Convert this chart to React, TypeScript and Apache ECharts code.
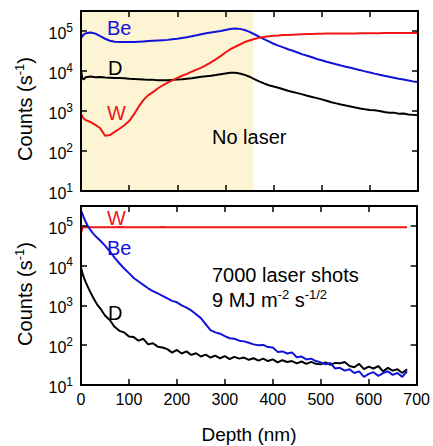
import React, { useEffect, useRef } from 'react';
import * as echarts from 'echarts';

// ---------- data ----------
const topDepth = [0, 3, 6, 10, 20, 30, 40, 50, 60, 70, 80, 90, 100, 110, 120, 130, 140, 150, 160, 170, 180, 190, 200,
  210, 220, 230, 240, 250, 260, 270, 280, 290, 300, 310, 320, 330, 340, 350, 360, 370, 380, 390, 400,
  410, 420, 430, 440, 450, 460, 470, 480, 490, 500, 510, 520, 530, 540, 550, 560, 570, 580, 590, 600,
  610, 620, 630, 640, 650, 660, 670, 680, 690, 700];

const beTop = [65000, 75000, 82000, 88000, 92000, 86000, 74000, 64000, 57000, 54000, 53000, 53000, 53000, 53000, 54000,
  55000, 56000, 57000, 58000, 59000, 60000, 62000, 64000, 67000, 70000, 74000, 78000, 83000, 88000, 92000, 96000,
  100000, 106000, 112000, 115000, 113000, 106000, 95000, 83000, 72000, 63000, 55000, 48000, 43000, 39000, 35000,
  32000, 29000, 26000, 24000, 22000, 20000, 18500, 17000, 15800, 14700, 13700, 12800, 12000, 11200, 10500, 9800,
  9200, 8600, 8100, 7600, 7200, 6800, 6400, 6100, 5800, 5500, 5300];

const dTop = [10500, 6500, 6200, 7000, 7300, 7000, 7100, 6900, 6800, 6700, 6700, 6600, 6400, 6300, 6200, 6100, 6000,
  6000, 5900, 5900, 5900, 6000, 6100, 6200, 6400, 6600, 6900, 7200, 7400, 7600, 7900, 8300, 8700, 9000, 9000, 8700,
  8000, 7200, 6300, 5500, 4900, 4400, 4100, 3800, 3500, 3200, 3000, 2800, 2600, 2400, 2250, 2100, 1950, 1800, 1650,
  1550, 1450, 1370, 1300, 1220, 1150, 1100, 1060, 1040, 1000, 940, 900, 910, 850, 870, 820, 800, 780];

const wTop = [850, 720, 640, 590, 530, 450, 370, 240, 250, 300, 360, 440, 560, 820, 1300, 1900, 2500, 3000, 3700, 4400,
  5100, 5800, 6700, 7600, 8500, 9600, 10800, 12200, 14000, 16500, 19500, 23500, 29000, 35000, 40000, 46000, 53000,
  58000, 63000, 68000, 71000, 74000, 76000, 77000, 79000, 80000, 81000, 82000, 83000, 84000, 84000, 85000, 85000,
  86000, 86000, 86000, 87000, 87000, 87000, 87000, 88000, 88000, 88000, 88000, 88000, 89000, 89000, 89000, 89000,
  89000, 89000, 89000, 89000];

const botDepth = [0, 3, 6, 10, 15, 20, 25, 30, 35, 40, 50, 60, 70, 80, 90, 100, 110, 120, 130, 140, 150, 160, 170, 180,
  190, 200, 210, 220, 230, 240, 250, 260, 270, 280, 290, 300, 310, 320, 330, 340, 350, 360, 370, 380, 390, 400, 410,
  420, 430, 440, 450, 460, 470, 480, 490, 500, 510, 520, 530, 540, 550, 560, 570, 580, 590, 600, 610, 620, 630, 640,
  650, 660, 670, 680];

const beBot = [240000, 200000, 160000, 125000, 95000, 78000, 65000, 56000, 49000, 43000, 32000, 23000, 16000, 11500,
  8500, 6500, 4900, 4000, 3300, 2700, 2300, 2000, 1750, 1500, 1300, 1200, 1000, 880, 750, 600, 480, 340, 240, 210,
  195, 170, 150, 145, 130, 125, 115, 105, 100, 102, 90, 88, 68, 70, 62, 66, 50, 52, 44, 46, 40, 37, 33, 36, 26, 27,
  23, 25, 20, 22, 16, 19, 21, 17, 20, 22, 18, 20, 16, 22];

const dBot = [9000, 6500, 5000, 3800, 2800, 2100, 1600, 1250, 1000, 850, 560, 430, 290, 230, 210, 165, 160, 130, 145,
  105, 112, 92, 88, 80, 65, 76, 62, 70, 57, 63, 52, 58, 49, 55, 47, 53, 45, 51, 46, 49, 43, 47, 41, 46, 40, 44, 37,
  42, 38, 40, 35, 39, 34, 38, 34, 33, 37, 32, 36, 35, 38, 30, 28, 34, 25, 29, 26, 30, 22, 27, 23, 25, 20, 25];

const wBot = [65000, 88000, 94000, 92000, 93000, 92000, 93000, 92000, 93000, 93000, 92000, 93000, 92000, 94000, 93000,
  92000, 93000, 92000, 93000, 93000, 92000, 93000, 94000, 92000, 93000, 92000, 93000, 93000, 92000, 93000, 92000,
  93000, 92000, 93000, 93000, 92000, 93000, 92000, 93000, 92000, 93000, 93000, 92000, 93000, 92000, 93000, 92000,
  93000, 93000, 92000, 93000, 92000, 93000, 92000, 93000, 93000, 92000, 93000, 92000, 93000, 92000, 93000, 93000,
  92000, 93000, 92000, 93000, 92000, 93000, 93000, 92000, 93000, 92000, 93000];

const shadeRange = [0, 357];
const xTicks = { min: 0, max: 700, step: 100 };
const yRange = { min: 10, max: 316228 };

const BLUE = '#1212d8';
const RED = '#ee1616';
const BLACK = '#000000';
const FONT = '"Liberation Sans", Arial, sans-serif';

function pair(xs: number[], ys: number[]) {
  return xs.map((x, i) => [x, ys[i]]);
}

function powLabel(v: number) {
  const p = Math.log10(v);
  const r = Math.round(p);
  if (Math.abs(p - r) > 1e-6) return '';
  return `{b|10}{s|${r}}`;
}

export default function App() {
  const ref = useRef<HTMLDivElement>(null);
  useEffect(() => {
    const chart = echarts.init(ref.current as HTMLDivElement, null, { renderer: 'svg' });

    const lineAx = { show: true, onZero: false, lineStyle: { color: BLACK, width: 2 } };
    const tickAx = { show: true, inside: true, length: 6, lineStyle: { color: BLACK, width: 1.5 } };

    const xAxis = (gridIndex: number, position: string, showLabel: boolean) => ({
      type: 'value', gridIndex, position,
      min: xTicks.min, max: xTicks.max, interval: xTicks.step,
      axisLine: lineAx, axisTick: tickAx,
      axisLabel: { show: showLabel, color: BLACK, fontSize: 16, fontFamily: FONT, margin: 6 },
      splitLine: { show: false }, z: 10,
    });
    const yAxis = (gridIndex: number, position: string, showLabel: boolean) => ({
      type: 'log', logBase: 10, gridIndex, position,
      min: yRange.min, max: yRange.max,
      axisLine: lineAx, axisTick: tickAx,
      axisLabel: {
        show: showLabel, margin: 8, formatter: powLabel, showMaxLabel: false,
        padding: [5, 0, 0, 0],
        rich: {
          b: { fontSize: 16, fontFamily: FONT, color: BLACK },
          s: { fontSize: 12, fontFamily: FONT, color: BLACK, padding: [0, 0, 12, 0] },
        },
      },
      splitLine: { show: false }, minorTick: { show: false }, z: 10,
    });

    const ser = (name: string, xi: number, data: number[][], color: string, extra: any = {}) => ({
      type: 'line', name, xAxisIndex: xi, yAxisIndex: xi, data, showSymbol: false, symbol: 'none',
      lineStyle: { color, width: 2 }, itemStyle: { color }, z: 3, ...extra,
    });

    const label = (x: number, y: number, text: string, color: string) => ({
      type: 'text', x, y, z: 20,
      style: { text, fill: color, fontSize: 20, fontFamily: FONT, align: 'left', verticalAlign: 'middle', textAlign: 'left', textVerticalAlign: 'middle' },
    });
    const richMain = { fontSize: 20, fontFamily: FONT, fill: BLACK, color: BLACK };
    const richSup = { fontSize: 13, fontFamily: FONT, fill: BLACK, color: BLACK, padding: [0, 0, 12, 0] };
    const yTitle = (y: number) => ({
      type: 'text', x: 25, y, rotation: Math.PI / 2, z: 20,
      style: {
        text: '{a|Counts (s}{s|-1}{a|)}', fill: BLACK, align: 'center', verticalAlign: 'middle',
        textAlign: 'center', textVerticalAlign: 'middle',
        rich: { a: richMain, s: richSup },
      },
    });

    chart.setOption({
      animation: false,
      backgroundColor: '#ffffff',
      grid: [
        { left: 81, top: 11, width: 337, height: 180, show: false },
        { left: 81, top: 206, width: 337, height: 179, show: false },
      ],
      xAxis: [xAxis(0, 'bottom', false), xAxis(0, 'top', false), xAxis(1, 'bottom', true), xAxis(1, 'top', false)],
      yAxis: [yAxis(0, 'left', true), yAxis(0, 'right', false), yAxis(1, 'left', true), yAxis(1, 'right', false)],
      series: [
        ser('Be', 0, pair(topDepth, beTop), BLUE, {
          markArea: {
            silent: true, z: 0, itemStyle: { color: '#fcf4d3' },
            data: [[{ xAxis: shadeRange[0] }, { xAxis: shadeRange[1] }]],
          },
        }),
        ser('D', 0, pair(topDepth, dTop), BLACK),
        ser('W', 0, pair(topDepth, wTop), RED),
        ser('W', 2, pair(botDepth, wBot), RED),
        ser('D', 2, pair(botDepth, dBot), BLACK),
        ser('Be', 2, pair(botDepth, beBot), BLUE),
      ],
      graphic: [
        label(107, 28, 'Be', BLUE),
        label(108, 68, 'D', BLACK),
        label(107, 113, 'W', RED),
        label(212, 137, 'No laser', BLACK),
        label(107, 218, 'W', RED),
        label(107, 248, 'Be', BLUE),
        label(108, 313, 'D', BLACK),
        label(212, 275, '7000 laser shots', BLACK),
        {
          type: 'text', x: 212, y: 300, z: 20,
          style: {
            text: '{a|9 MJ m}{s|-2}{a| s}{s|-1/2}', fill: BLACK, align: 'left', verticalAlign: 'middle',
            textAlign: 'left', textVerticalAlign: 'middle',
            rich: { a: richMain, s: richSup },
          },
        },
        yTitle(109),
        yTitle(294),
        {
          type: 'text', x: 249, y: 434.5, z: 20,
          style: { text: 'Depth (nm)', fill: BLACK, fontSize: 19, fontFamily: FONT, align: 'center', verticalAlign: 'middle', textAlign: 'center', textVerticalAlign: 'middle' },
        },
      ],
    });
    return () => chart.dispose();
  }, []);

  return <div ref={ref} style={{ position: 'fixed', left: 0, top: 0, width: 433, height: 446 }} />;
}
